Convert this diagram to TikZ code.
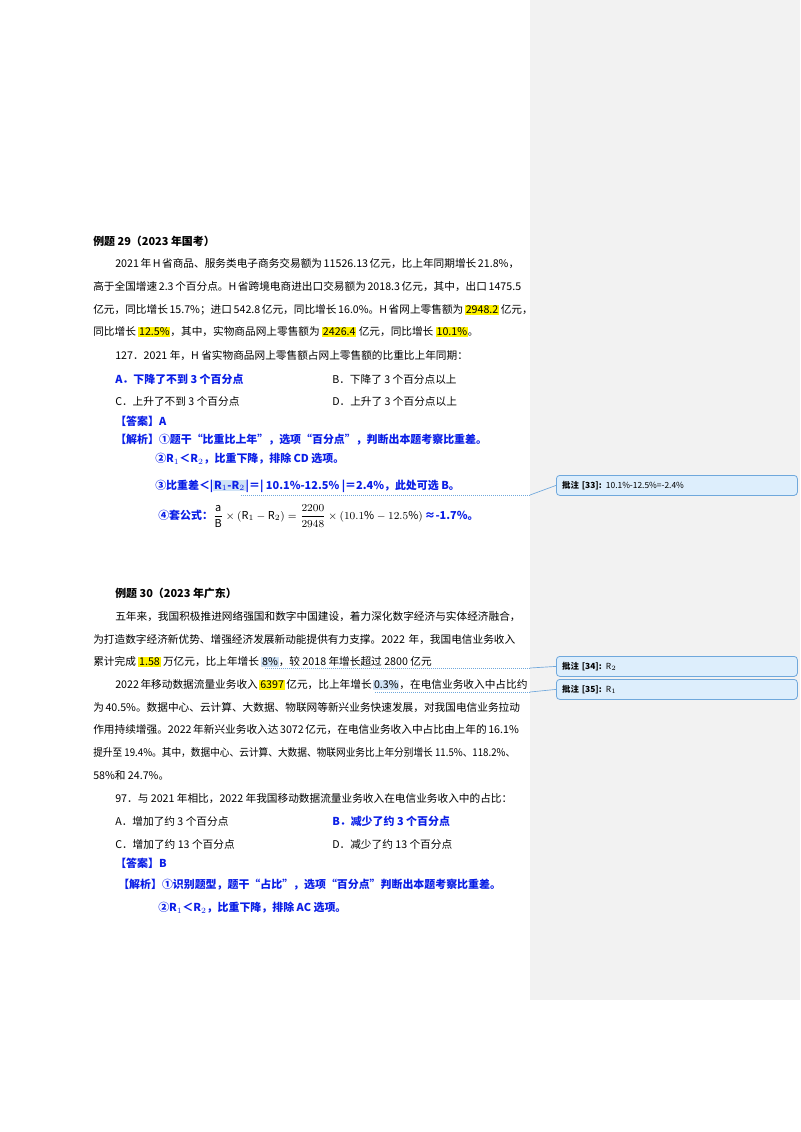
\documentclass[tikz,border=0pt]{standalone}
\usepackage{fontspec}
\setmainfont{Noto Sans CJK SC}
\usepackage{amsmath}
\usepackage{graphicx}
\XeTeXlinebreaklocale "zh"
\XeTeXlinebreakskip=0pt plus 3pt minus 1.5pt
\definecolor{side}{HTML}{F2F2F2}
\definecolor{cbox}{HTML}{DDEEFC}
\definecolor{cbord}{HTML}{6FA8DC}
\definecolor{ablue}{HTML}{0A1EE6}
\definecolor{selc}{HTML}{CFE2F5}
\newcommand{\hlx}[1]{{\setlength\fboxsep{0.6pt}\colorbox{yellow}{#1}}}
\newcommand{\selx}[1]{{\setlength\fboxsep{0.6pt}\colorbox{selc}{#1}}}
\newcommand{\jla}[1]{\makebox[300pt][s]{#1}}
\newcommand{\jlb}[1]{\makebox[316.5pt][s]{#1}}
\begin{document}
\begin{tikzpicture}[x=0.75pt,y=-0.75pt,
  t/.style={anchor=west,inner sep=0,font=\fontsize{8}{10}\selectfont},
  b/.style={t,font=\fontsize{8.2}{10}\selectfont\bfseries,text=ablue},
  h/.style={t,font=\fontsize{8.2}{10}\selectfont\bfseries},
  cmt/.style={draw=cbord,fill=cbox,rounded corners=2.5pt,line width=0.6pt,minimum width=180.75pt,minimum height=15pt,text width=172pt,align=left,inner xsep=4pt,inner ysep=0pt,anchor=north west,font=\fontsize{6.3}{8}\selectfont},
  lk/.style={draw=cbord,line width=0.5pt},
  dk/.style={draw=cbord,line width=0.5pt,densely dotted}]
\useasboundingbox (0,0) rectangle (800,1132);
\fill[side] (530,0) rectangle (800,1000);
% example 29
\node[h] (t29) at (93,241) {例题 29（2023 年国考）};
\node[t] (p1) at (115,264) {\jla{2021 年 H 省商品、服务类电子商务交易额为 11526.13 亿元，比上年同期增长 21.8\%，}};
\node[t] (p2) at (93,287) {\jlb{高于全国增速 2.3 个百分点。H 省跨境电商进出口交易额为 2018.3 亿元，其中，出口 1475.5}};
\node[t] (p3) at (93,310) {\jlb{亿元，同比增长 15.7\%；进口 542.8 亿元，同比增长 16.0\%。H 省网上零售额为 \hlx{2948.2} 亿元，}};
\node[t] (p4) at (93,332) {同比增长 \hlx{12.5\%}，其中，实物商品网上零售额为 \hlx{2426.4} 亿元，同比增长 \hlx{10.1\%}。};
\node[t] (q127) at (115,356) {127．2021 年，H 省实物商品网上零售额占网上零售额的比重比上年同期：};
\node[b] (oA) at (115,379) {A．下降了不到 3 个百分点};
\node[t] (oB) at (332,379) {B．下降了 3 个百分点以上};
\node[t] (oC) at (115,401) {C．上升了不到 3 个百分点};
\node[t] (oD) at (332,401) {D．上升了 3 个百分点以上};
\node[b] (ans1) at (115,421) {【答案】A};
\node[b] (jx1) at (115,440) {【解析】①题干“比重比上年”，选项“百分点”，判断出本题考察比重差。};
\node[b] (s2) at (155,459) {②R$_1$＜R$_2$，比重下降，排除 CD 选项。};
\node[b] (s3) at (155,486) {③比重差＜|\selx{R$_1$-R$_2$}|＝| 10.1\%-12.5\% |＝2.4\%，此处可选 B。};
\node[b] (s4) at (158,516) {④套公式：\normalfont\textcolor{black}{$\dfrac{\mathrm{a}}{\mathrm{B}}\times(\mathrm{R}_1-\mathrm{R}_2)=\dfrac{2200}{2948}\times(10.1\%-12.5\%)$}\bfseries\,≈-1.7\%。};
% example 30
\node[h] (t30) at (115,593) {例题 30（2023 年广东）};
\node[t] (r1) at (115,617) {\jla{五年来，我国积极推进网络强国和数字中国建设，着力深化数字经济与实体经济融合，}};
\node[t] (r2) at (93,640) {\jlb{为打造数字经济新优势、增强经济发展新动能提供有力支撑。2022 年，我国电信业务收入}};
\node[t] (r3) at (93,662) {累计完成 \hlx{1.58} 万亿元，比上年增长 \selx{8\%}，较 2018 年增长超过 2800 亿元};
\node[t] (r4) at (115,685) {\jla{2022 年移动数据流量业务收入 \hlx{6397} 亿元，比上年增长 \selx{0.3\%}，在电信业务收入中占比约}};
\node[t] (r5) at (93,708) {\jlb{为 40.5\%。数据中心、云计算、大数据、物联网等新兴业务快速发展，对我国电信业务拉动}};
\node[t] (r6) at (93,730) {\jlb{作用持续增强。2022 年新兴业务收入达 3072 亿元，在电信业务收入中占比由上年的 16.1\%}};
\node[t] (r7) at (93,753) {\resizebox{316.5pt}{\height}{提升至 19.4\%。其中，数据中心、云计算、大数据、物联网业务比上年分别增长 11.5\%、118.2\%、}};
\node[t] (r8) at (93,775) {58\%和 24.7\%。};
\node[t] (q97) at (115,799) {97．与 2021 年相比，2022 年我国移动数据流量业务收入在电信业务收入中的占比：};
\node[t] (pA) at (115,821) {A．增加了约 3 个百分点};
\node[b] (pB) at (332,821) {B．减少了约 3 个百分点};
\node[t] (pC) at (115,844) {C．增加了约 13 个百分点};
\node[t] (pD) at (332,844) {D．减少了约 13 个百分点};
\node[b] (ans2) at (115,863) {【答案】B};
\node[b] (jx2) at (118,885) {【解析】①识别题型，题干“占比”，选项“百分点”判断出本题考察比重差。};
\node[b] (u2) at (158,908) {②R$_1$＜R$_2$，比重下降，排除 AC 选项。};
% comments
\node[cmt] (c33) at (556,475) {\textbf{批注 [33]:} 10.1\%-12.5\%=-2.4\%};
\node[cmt] (c34) at (556,656) {\textbf{批注 [34]:} R$_2$};
\node[cmt] (c35) at (556,679) {\textbf{批注 [35]:} R$_1$};
\coordinate (k33) at (530,495);
\coordinate (k34) at (530,668);
\coordinate (k35) at (530,692);
\draw[dk] (241,495) -- (k33);
\draw[lk] (k33) -- (c33.west);
\draw[dk] (265,668) -- (k34);
\draw[lk] (k34) -- (c34.west);
\draw[dk] (375,692) -- (k35);
\draw[lk] (k35) -- (c35.west);
\end{tikzpicture}
\end{document}
